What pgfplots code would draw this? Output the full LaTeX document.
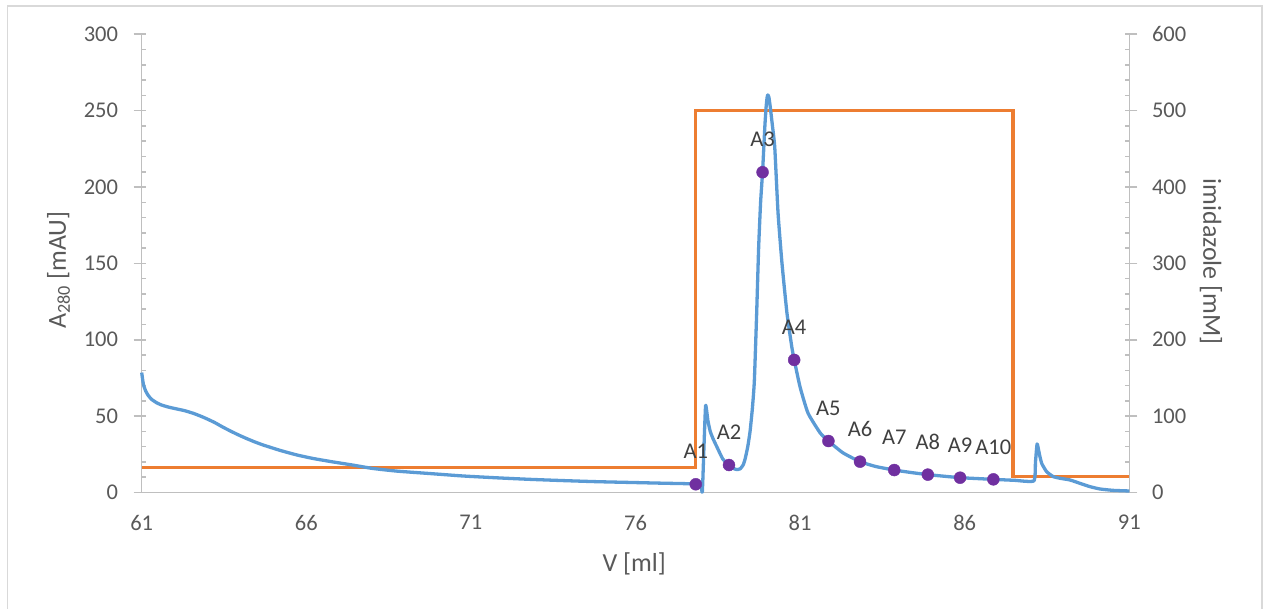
\documentclass[border=0pt]{standalone}
\usepackage{pgfplots}
\pgfplotsset{compat=1.18}
\usepackage{pgfplotstable}
\usepackage{fontspec}
\setmainfont{Carlito}
\definecolor{cblue}{HTML}{5B9BD5}
\definecolor{corange}{HTML}{ED7D31}
\definecolor{cpurple}{HTML}{7030A0}
\definecolor{ctick}{HTML}{595959}
\definecolor{clabel}{HTML}{404040}
\definecolor{caxis}{HTML}{BFBFBF}
\definecolor{cframe}{HTML}{D9D9D9}

\pgfplotstableread{
x y
61.00 78.5
61.05 71
61.12 66.5
61.20 63.5
61.30 61
61.45 58.8
61.60 57.3
61.80 56
62.00 55.0
62.30 53.6
62.60 51.6
62.90 49.0
63.20 46.0
63.45 43.0
63.70 40.2
63.95 37.6
64.20 35.2
64.45 33.0
64.69 31.1
65.20 27.6
65.71 24.6
66.20 22.3
66.76 20.2
67.40 18.0
68.00 15.8
68.75 14.0
69.76 12.4
70.77 10.8
71.80 9.6
72.80 8.6
73.80 7.8
74.80 7.1
75.80 6.6
76.80 6.1
77.50 5.8
77.83 5.5
77.98 5.3
78.03 0.4
78.08 30
78.13 57
78.20 47
78.27 40
78.36 35
78.47 30
78.65 22
78.84 18
79.00 15.5
79.10 15
79.18 15.5
79.27 18
79.33 22
79.41 30
79.48 40
79.55 55
79.61 73
79.68 117
79.74 160
79.80 190
79.86 210
79.93 240
79.97 253
80.00 259
80.02 260.3
80.05 259
80.09 253
80.16 240
80.23 226
80.33 183
80.45 150
80.60 117.6
80.75 95
80.82 87
81.00 69
81.24 52
81.61 39
81.86 33.7
82.30 26
82.82 20.2
83.30 17
83.86 14.7
84.40 13
84.88 11.7
85.40 10.6
85.86 9.7
86.40 9.1
86.87 8.6
87.50 8.0
88.10 7.6
88.15 20
88.20 31.8
88.27 25
88.34 19
88.49 13.6
88.69 10.4
88.90 9.3
89.20 8.2
89.50 6.0
89.81 3.8
90.11 2.3
90.51 1.4
91.00 1.0
}\bluedata

\pgfplotstableread{
x y
61.00 32.5
77.82 32.5
77.82 500
87.47 500
87.47 20.5
91.00 20.5
}\orangedata

\pgfplotstableread{
x y label
77.83 5.4 A1
78.84 18.0 A2
79.86 209.7 A3
80.82 86.8 A4
81.86 33.7 A5
82.82 20.2 A6
83.86 14.7 A7
84.88 11.7 A8
85.86 9.7 A9
86.87 8.6 A10
}\fractions

\begin{document}
\begin{tikzpicture}
\useasboundingbox (-141.7bp,-116.5bp) rectangle (1129.3bp,492.5bp);
\pgfplotsset{
  common/.style={scale only axis, width=987.6bp, height=458.2bp, xmin=61, xmax=91,
    /pgf/number format/assume math mode=true,
    ticklabel style={font=\fontsize{22.5bp}{27bp}\selectfont, text=ctick, inner sep=0pt},
    axis line style={draw=caxis, line width=1.6bp},
    tick style={draw=caxis, line width=1.6bp},
    tick align=inside, major tick length=12bp, minor tick length=4.5bp,
    clip=false,
  }
}
\begin{axis}[common, ymin=0, ymax=600, axis x line=none, axis y line*=right,
  ytick={0,100,...,600}, minor y tick num=4,
  major tick style={xshift=8bp},
  yticklabel style={anchor=west, xshift=22.5bp},
  ylabel={imidazole [mM]},
  every axis y label/.style={at={(axis description cs:1.0751,0.5037)}, anchor=base, rotate=-90,
    font=\fontsize{26bp}{30bp}\selectfont, text=ctick},
]
\addplot[corange, line width=3.3bp, mark=none] table {\orangedata};
\end{axis}
\begin{axis}[common, ymin=0, ymax=300, axis x line*=bottom, axis y line*=left,
  xtick={61,66,...,91}, ytick={0,50,...,300}, minor y tick num=4,
  x tick style={draw=none}, major tick style={xshift=-8bp},
  xticklabel style={anchor=north, yshift=-22.5bp},
  yticklabel style={anchor=east, xshift=-23.5bp},
  xlabel={V [ml]}, ylabel={A\textsubscript{280} [mAU]},
  every axis x label/.style={at={(axis description cs:0.4987,-0.1728)}, anchor=base,
    font=\fontsize{26bp}{30bp}\selectfont, text=ctick},
  every axis y label/.style={at={(axis description cs:-0.0767,0.4856)}, anchor=base, rotate=90,
    font=\fontsize{26bp}{30bp}\selectfont, text=ctick},
]
\addplot[cblue, line width=3.3bp, mark=none, line join=round, smooth, tension=0.3] table {\bluedata};
\addplot[only marks, mark=*, mark size=6bp, mark options={draw=cpurple, fill=cpurple},
  nodes near coords, point meta=explicit symbolic, nodes near coords align=center,
  every node near coord/.append style={yshift=32.5bp, font=\fontsize{22.5bp}{27bp}\selectfont, text=clabel}]
  table[meta=label] {\fractions};
\end{axis}
\draw[cframe, line width=1.3bp] (-134.4bp,-140bp) rectangle (1120.3bp,486.5bp);
\end{tikzpicture}
\end{document}
